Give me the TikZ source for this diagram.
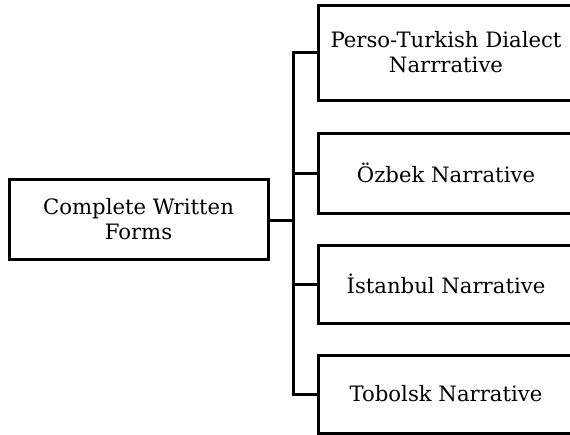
\documentclass[tikz,border=0pt]{standalone}
\usepackage{fontspec}
\setmainfont{DejaVu Serif}
\begin{document}
\begin{tikzpicture}[x=1pt,y=-1pt,
  box/.style={draw, line width=3pt, inner sep=0pt, align=center,
    font=\fontsize{21.2}{25}\selectfont},
  link/.style={line width=3pt}]
\useasboundingbox (0,0) rectangle (570,434);
\clip (0,0) rectangle (570,434);
\node[box, minimum width=259pt, minimum height=80pt] (src) at (138.5,219) {Complete Written\\Forms};
\node[box, minimum width=256pt, minimum height=95pt] (b1) at (446,52.5) {Perso-Turkish Dialect\\Narrrative};
\node[box, minimum width=256pt, minimum height=80pt] (b2) at (446,173) {Özbek Narrative};
\node[box, minimum width=256pt, minimum height=78pt] (b3) at (446,284) {İstanbul Narrative};
\node[box, minimum width=256pt, minimum height=78pt] (b4) at (446,394) {Tobolsk Narrative};
\coordinate (j) at (293,220);
\draw[link] (src.east |- j) -- (j);
\draw[link] (b1.west) -| (j);
\draw[link] (b2.west) -| (j);
\draw[link] (b3.west) -| (j);
\draw[link] (b4.west) -| (j);
\end{tikzpicture}
\end{document}
